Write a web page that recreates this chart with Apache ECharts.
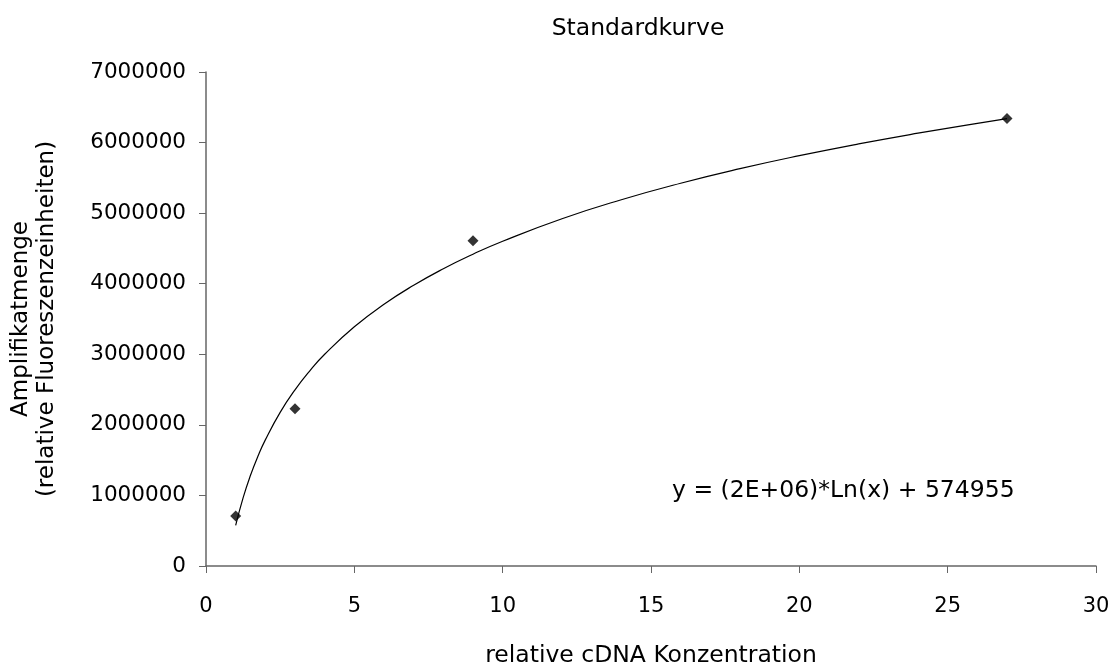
<!DOCTYPE html>
<html>
<head>
<meta charset="utf-8">
<script src="https://cdn.jsdelivr.net/npm/echarts@6/dist/echarts.min.js"></script>
<style>
html,body{margin:0;padding:0;background:#fff;}
#c{width:1113px;height:669px;}
</style>
</head>
<body>
<div id="c"></div>
<script>
// measured data points
var xValues = [1, 3, 9, 27];
var yValues = [710000, 2230000, 4610000, 6340000];
// trendline
var trendX = [1, 1.25, 1.5, 1.75, 2, 2.5, 3, 3.5, 4, 5, 6, 7, 8, 9, 10, 12, 14, 16, 18, 20, 22, 24, 26, 27];
var trendY = [575000, 965000, 1285000, 1555000, 1787000, 2177000, 2496000, 2766000, 3000000, 3390000, 3709000, 3978000, 4212000, 4418000, 4602000, 4921000, 5190000, 5424000, 5630000, 5814000, 5981000, 6133000, 6273000, 6340000];
var xTicks = [0, 5, 10, 15, 20, 25, 30];
var yTicks = [0, 1000000, 2000000, 3000000, 4000000, 5000000, 6000000, 7000000];
var titleText = 'Standardkurve';
var xName = 'relative cDNA Konzentration';
var yName = 'Amplifikatmenge\n(relative Fluoreszenzeinheiten)';
var equation = 'y = (2E+06)*Ln(x) + 574955';

var pts = xValues.map(function(x, i){ return [x, yValues[i]]; });
var trend = trendX.map(function(x, i){ return [x, trendY[i]]; });

var chart = echarts.init(document.getElementById('c'));
var font = 'DejaVu Sans, Verdana, sans-serif';
chart.setOption({
  animation: false,
  backgroundColor: '#fff',
  title: {
    text: titleText, left: 633, textAlign: 'center', top: 12,
    textStyle: {fontFamily: font, fontSize: 23.5, fontWeight: 'normal', color: '#000'}
  },
  grid: {left: 206, right: 17, top: 72, bottom: 103, containLabel: false, outerBoundsMode: 'none'},
  xAxis: {
    type: 'value', min: xTicks[0], max: xTicks[xTicks.length-1], interval: 5,
    name: xName, nameLocation: 'middle', nameGap: 78,
    nameTextStyle: {fontFamily: font, fontSize: 23.5, color: '#000'},
    axisLine: {onZero: false, lineStyle: {color: '#666', width: 1.5}},
    axisTick: {show: true, length: 7, lineStyle: {color: '#666'}},
    axisLabel: {fontFamily: font, fontSize: 21, color: '#000', margin: 30},
    splitLine: {show: false}
  },
  yAxis: {
    type: 'value', min: yTicks[0], max: yTicks[yTicks.length-1], interval: 1000000,
    name: yName, nameLocation: 'middle', nameGap: 146, nameRotate: 90,
    nameTextStyle: {fontFamily: font, fontSize: 23, color: '#000', lineHeight: 26},
    axisLine: {show: true, lineStyle: {color: '#666', width: 1.5}},
    axisTick: {show: true, length: 7, lineStyle: {color: '#666'}},
    axisLabel: {fontFamily: font, fontSize: 21.5, color: '#000', margin: 20,
      formatter: function(v){ return String(v); }},
    splitLine: {show: false}
  },
  series: [
    {
      type: 'line', data: trend, smooth: true, showSymbol: false, symbol: 'none',
      lineStyle: {color: '#000', width: 1.2}, z: 2
    },
    {
      type: 'scatter', data: pts, symbol: 'diamond', symbolSize: 11,
      itemStyle: {color: '#000'}, z: 3
    }
  ],
  graphic: [{
    type: 'text', left: 672, top: 479,
    style: {text: equation, fontFamily: font, fontSize: 23.5, fill: '#000'}
  }]
});
</script>
</body>
</html>
